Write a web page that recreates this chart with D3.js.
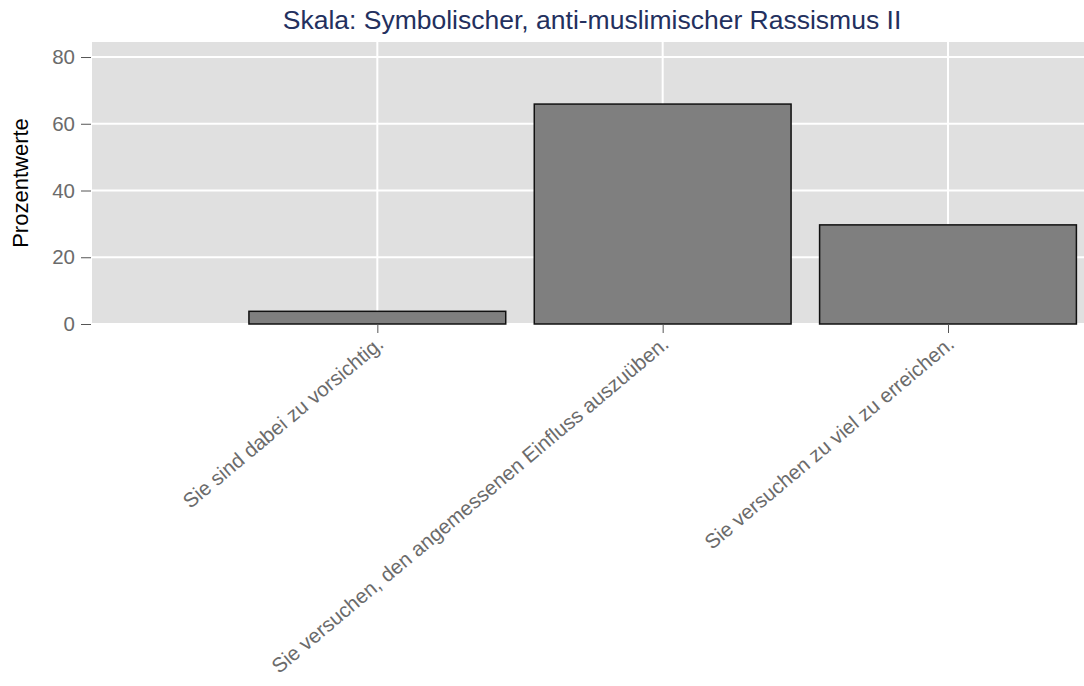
<!DOCTYPE html>
<html lang="de">
<head>
<meta charset="utf-8">
<script src="https://d3js.org/d3.v7.min.js"></script>
<style>
  body { margin: 0; background: #fff; }
  text { font-family: "Liberation Sans", Arial, sans-serif; }
</style>
</head>
<body>
<script type="text/javascript">
  var w = 1084;
  var h = 686;

  // data
  var categories = ["Sie sind dabei zu vorsichtig.",
                    "Sie versuchen, den angemessenen Einfluss auszuüben.",
                    "Sie versuchen zu viel zu erreichen."];
  var values = [3.8, 65.9, 29.7];
  var yTicks = [0, 20, 40, 60, 80];
  var title = "Skala: Symbolischer, anti-muslimischer Rassismus II";
  var yTitle = "Prozentwerte";

  var plot = {left: 92, right: 1084, top: 42, bottom: 324};

  var svg = d3.select("body")
          .append("svg")
          .attr("width", w)
          .attr("height", h);

  // an empty first slot, like in the original plot
  var x = d3.scalePoint()
          .domain([""].concat(categories))
          .range([plot.left, 948]);
  var step = x.step();

  var y = d3.scaleLinear()
          .domain([0, 84.5])
          .range([plot.bottom, plot.top]);

  // panel
  svg.append("rect")
    .attr("x", plot.left)
    .attr("y", plot.top)
    .attr("width", plot.right - plot.left)
    .attr("height", plot.bottom - plot.top)
    .attr("fill", "#e0e0e0");

  // grid
  svg.selectAll("line.hgrid")
    .data(yTicks)
    .join("line")
    .attr("class", "hgrid")
    .attr("x1", plot.left).attr("x2", plot.right)
    .attr("y1", d => y(d)).attr("y2", d => y(d))
    .attr("stroke", "#fff").attr("stroke-width", 2);

  svg.selectAll("line.vgrid")
    .data(categories)
    .join("line")
    .attr("class", "vgrid")
    .attr("x1", d => x(d)).attr("x2", d => x(d))
    .attr("y1", plot.top).attr("y2", plot.bottom)
    .attr("stroke", "#fff").attr("stroke-width", 2);

  // bars
  svg.selectAll("rect.bar")
    .data(values)
    .join("rect")
    .attr("class", "bar")
    .attr("x", (d, i) => x(categories[i]) - step * 0.45)
    .attr("width", step * 0.9)
    .attr("y", d => y(d))
    .attr("height", d => y(0) - y(d))
    .attr("fill", "#7f7f7f")
    .attr("stroke", "#111")
    .attr("stroke-width", 1.5);

  // y axis
  var yAxis = d3.axisLeft(y).tickValues(yTicks).tickSize(10).tickPadding(6);
  var gy = svg.append("g")
    .attr("transform", `translate(${plot.left - 1},0)`)
    .call(yAxis);
  gy.select(".domain").remove();
  gy.selectAll(".tick line").attr("stroke", "#555").attr("stroke-width", 1);
  gy.selectAll(".tick text")
    .attr("fill", "#6b6b6b")
    .style("font-size", "20.5px")
    .style("font-family", "Liberation Sans, Arial, sans-serif");

  // x axis
  var xAxis = d3.axisBottom(x).tickValues(categories).tickSize(9).tickPadding(0);
  var gx = svg.append("g")
    .attr("transform", `translate(0,${plot.bottom})`)
    .call(xAxis);
  gx.select(".domain").remove();
  gx.selectAll(".tick line").attr("stroke", "#555").attr("stroke-width", 1);
  gx.selectAll(".tick text")
    .attr("fill", "#6b6b6b")
    .style("font-size", "20.5px")
    .style("font-family", "Liberation Sans, Arial, sans-serif")
    .attr("text-anchor", "end")
    .attr("y", 0)
    .attr("dy", 0)
    .attr("transform", "translate(7,22) rotate(-40)");

  // y title
  svg.append("text")
    .attr("transform", `translate(28,${(plot.top + plot.bottom) / 2}) rotate(-90)`)
    .attr("text-anchor", "middle")
    .attr("fill", "#000")
    .style("font-size", "22px")
    .text(yTitle);

  // title
  svg.append("text")
    .attr("x", 592)
    .attr("y", 29)
    .attr("text-anchor", "middle")
    .attr("fill", "#23305e")
    .style("font-size", "26.5px")
    .text(title);
</script>
</body>
</html>
